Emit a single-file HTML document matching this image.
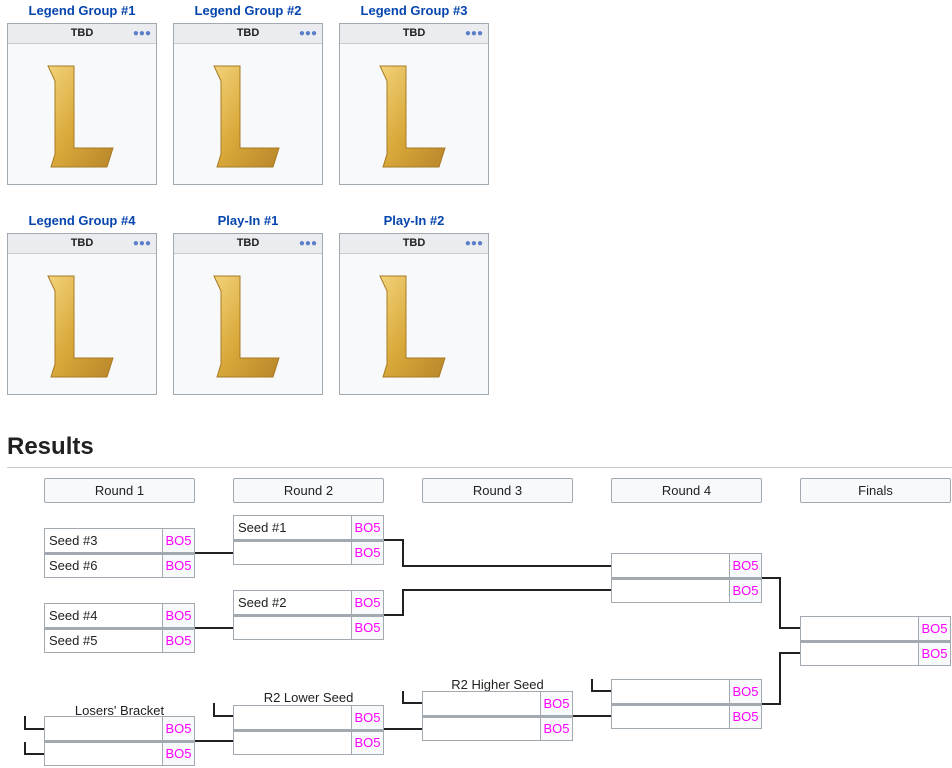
<!DOCTYPE html>
<html><head><meta charset="utf-8"><style>
body{margin:0;width:952px;height:768px;background:#fff;position:relative;overflow:hidden;font-family:"Liberation Sans",sans-serif}
*{box-sizing:border-box}
.t{position:absolute;width:150px;text-align:center;color:#0645ad;font-weight:bold;font-size:13px}
.card{position:absolute;width:150px;height:162px;border:1px solid #a2a9b1;background:#f8f9fa}
.card .h{height:20px;border-bottom:1px solid #c8ccd1;background:#eaecf0;text-align:center;font-size:11px;font-weight:bold;line-height:19px;color:#202122;position:relative}
.card .h i{position:absolute;right:5px;top:0;font-style:normal;color:#5b7ec9;font-size:10px}
.card svg{position:absolute;left:0;top:0}
.rh{position:absolute;width:151px;height:25px;border:1px solid #a2a9b1;border-radius:2px;background:#f8f9fa;text-align:center;font-size:13px;line-height:23px;color:#202122}
.m{position:absolute;width:151px}
.r{height:25px;border:1px solid #a2a9b1;background:#fff;display:flex;font-size:13px;line-height:23px;color:#202122}
.r+.r{border-top:2px solid #a2a9b1;line-height:22px}
.r .n{flex:1;padding-left:4px}
.r .s{width:32px;border-left:1px solid #a2a9b1;background:#f8f9fa;color:#f0f;text-align:center}
.lbl{position:absolute;width:151px;text-align:center;font-size:13px;color:#202122}
svg.lines{position:absolute;left:0;top:0}
</style></head><body>
<div class="t" style="left:7px;top:3px">Legend Group #1</div>
<div class="t" style="left:173px;top:3px">Legend Group #2</div>
<div class="t" style="left:339px;top:3px">Legend Group #3</div>
<div class="t" style="left:7px;top:213px">Legend Group #4</div>
<div class="t" style="left:173px;top:213px">Play-In #1</div>
<div class="t" style="left:339px;top:213px">Play-In #2</div>

<svg width="0" height="0" style="position:absolute"><defs><linearGradient id="g" x1="0" y1="0" x2="1" y2="1"><stop offset="0" stop-color="#f2d27a"/><stop offset="0.5" stop-color="#d9a93a"/><stop offset="1" stop-color="#b8862a"/></linearGradient></defs></svg>

<div class="card" style="left:7px;top:23px"><div class="h">TBD<i>&#9679;&#9679;&#9679;</i></div><svg width="148" height="160"><polygon points="40,42 66,42 66,124 105,124 99,143 43,143 47,130 47,57" fill="url(#g)" stroke="#a87a25" stroke-width="1"/></svg></div>
<div class="card" style="left:173px;top:23px"><div class="h">TBD<i>&#9679;&#9679;&#9679;</i></div><svg width="148" height="160"><polygon points="40,42 66,42 66,124 105,124 99,143 43,143 47,130 47,57" fill="url(#g)" stroke="#a87a25" stroke-width="1"/></svg></div>
<div class="card" style="left:339px;top:23px"><div class="h">TBD<i>&#9679;&#9679;&#9679;</i></div><svg width="148" height="160"><polygon points="40,42 66,42 66,124 105,124 99,143 43,143 47,130 47,57" fill="url(#g)" stroke="#a87a25" stroke-width="1"/></svg></div>
<div class="card" style="left:7px;top:233px"><div class="h">TBD<i>&#9679;&#9679;&#9679;</i></div><svg width="148" height="160"><polygon points="40,42 66,42 66,124 105,124 99,143 43,143 47,130 47,57" fill="url(#g)" stroke="#a87a25" stroke-width="1"/></svg></div>
<div class="card" style="left:173px;top:233px"><div class="h">TBD<i>&#9679;&#9679;&#9679;</i></div><svg width="148" height="160"><polygon points="40,42 66,42 66,124 105,124 99,143 43,143 47,130 47,57" fill="url(#g)" stroke="#a87a25" stroke-width="1"/></svg></div>
<div class="card" style="left:339px;top:233px"><div class="h">TBD<i>&#9679;&#9679;&#9679;</i></div><svg width="148" height="160"><polygon points="40,42 66,42 66,124 105,124 99,143 43,143 47,130 47,57" fill="url(#g)" stroke="#a87a25" stroke-width="1"/></svg></div>

<div style="position:absolute;left:7px;top:433px;font-size:24px;font-weight:bold;color:#202122">Results</div>
<div style="position:absolute;left:7px;top:467px;width:945px;height:1px;background:#c8ccd1"></div>

<div class="rh" style="left:44px;top:478px">Round 1</div>
<div class="rh" style="left:233px;top:478px">Round 2</div>
<div class="rh" style="left:422px;top:478px">Round 3</div>
<div class="rh" style="left:611px;top:478px">Round 4</div>
<div class="rh" style="left:800px;top:478px">Finals</div>

<svg class="lines" width="952" height="768"><g fill="none" stroke="#202122" stroke-width="2">
<path d="M195 553H233"/><path d="M195 628H233"/>
<path d="M384 540H403V566H611"/><path d="M384 615H403V590H611"/>
<path d="M762 578H780V628H800"/><path d="M762 704H780V653H800"/>
<path d="M592 679V691H611"/><path d="M573 716H611"/>
<path d="M403 691V703H422"/><path d="M384 729H422"/>
<path d="M214 703V716H233"/>
<path d="M25 716V729H44"/><path d="M25 742V754H44"/><path d="M195 741H233"/>
</g></svg>

<div class="m" style="left:44px;top:528px"><div class="r"><span class="n">Seed #3</span><span class="s">BO5</span></div><div class="r"><span class="n">Seed #6</span><span class="s">BO5</span></div></div>
<div class="m" style="left:44px;top:603px"><div class="r"><span class="n">Seed #4</span><span class="s">BO5</span></div><div class="r"><span class="n">Seed #5</span><span class="s">BO5</span></div></div>
<div class="lbl" style="left:44px;top:703px">Losers' Bracket</div>
<div class="m" style="left:44px;top:716px"><div class="r"><span class="n"></span><span class="s">BO5</span></div><div class="r"><span class="n"></span><span class="s">BO5</span></div></div>

<div class="m" style="left:233px;top:515px"><div class="r"><span class="n">Seed #1</span><span class="s">BO5</span></div><div class="r"><span class="n"></span><span class="s">BO5</span></div></div>
<div class="m" style="left:233px;top:590px"><div class="r"><span class="n">Seed #2</span><span class="s">BO5</span></div><div class="r"><span class="n"></span><span class="s">BO5</span></div></div>
<div class="lbl" style="left:233px;top:690px">R2 Lower Seed</div>
<div class="m" style="left:233px;top:705px"><div class="r"><span class="n"></span><span class="s">BO5</span></div><div class="r"><span class="n"></span><span class="s">BO5</span></div></div>

<div class="lbl" style="left:422px;top:677px">R2 Higher Seed</div>
<div class="m" style="left:422px;top:691px"><div class="r"><span class="n"></span><span class="s">BO5</span></div><div class="r"><span class="n"></span><span class="s">BO5</span></div></div>

<div class="m" style="left:611px;top:553px"><div class="r"><span class="n"></span><span class="s">BO5</span></div><div class="r"><span class="n"></span><span class="s">BO5</span></div></div>
<div class="m" style="left:611px;top:679px"><div class="r"><span class="n"></span><span class="s">BO5</span></div><div class="r"><span class="n"></span><span class="s">BO5</span></div></div>

<div class="m" style="left:800px;top:616px"><div class="r"><span class="n"></span><span class="s">BO5</span></div><div class="r"><span class="n"></span><span class="s">BO5</span></div></div>
</body></html>
